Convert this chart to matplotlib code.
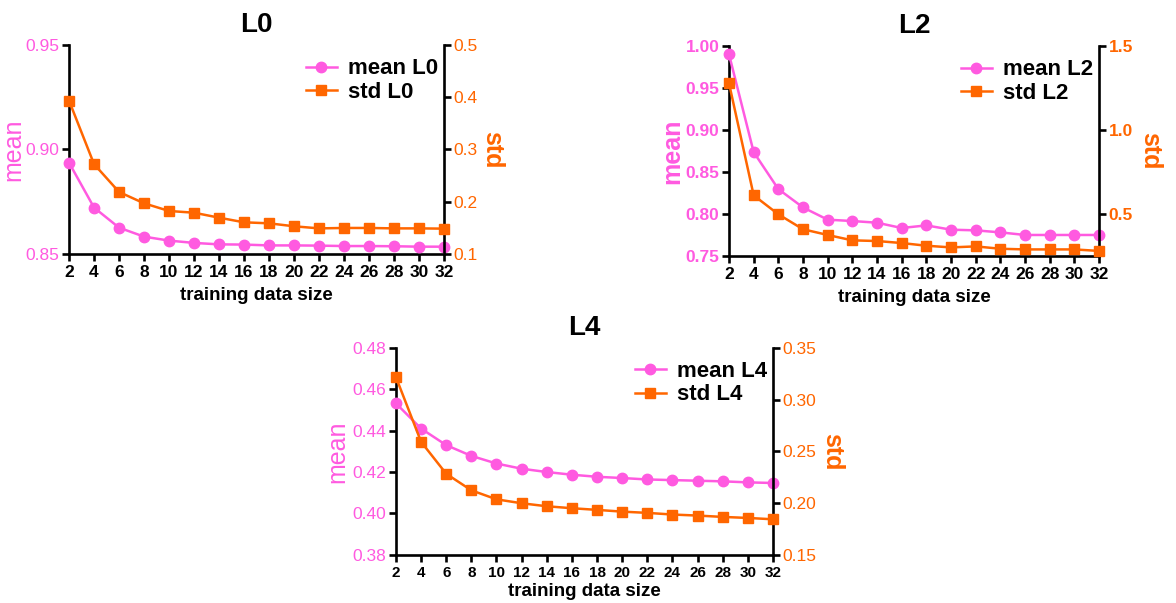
import matplotlib
matplotlib.use("Agg")
import matplotlib.pyplot as plt

plt.rcParams['font.family'] = ['Liberation Sans', 'DejaVu Sans']

# datos
sizes = [2, 4, 6, 8, 10, 12, 14, 16, 18, 20, 22, 24, 26, 28, 30, 32]

mean_L0 = [0.8937, 0.8722, 0.8626, 0.8583, 0.8564, 0.8553, 0.8546, 0.8545,
           0.8541, 0.8541, 0.8540, 0.8538, 0.8538, 0.8537, 0.8535, 0.8535]
std_L0 = [0.3935, 0.2720, 0.2187, 0.1970, 0.1823, 0.1790, 0.1695, 0.1606,
          0.1587, 0.1530, 0.1490, 0.1498, 0.1498, 0.1490, 0.1490, 0.1485]

mean_L2 = [0.9901, 0.8736, 0.8296, 0.8078, 0.7932, 0.7916, 0.7896, 0.7833,
           0.7864, 0.7813, 0.7805, 0.7781, 0.7750, 0.7750, 0.7750, 0.7750]
std_L2 = [1.278, 0.611, 0.498, 0.409, 0.375, 0.343, 0.339, 0.327,
          0.311, 0.301, 0.307, 0.293, 0.289, 0.289, 0.289, 0.280]

mean_L4 = [0.4532, 0.4410, 0.4330, 0.4278, 0.4241, 0.4216, 0.4200, 0.4187,
           0.4177, 0.4171, 0.4164, 0.4161, 0.4158, 0.4155, 0.4150, 0.4147]
std_L4 = [0.3217, 0.2592, 0.2283, 0.2123, 0.2036, 0.1998, 0.1969, 0.1950,
          0.1934, 0.1917, 0.1905, 0.1889, 0.1879, 0.1866, 0.1856, 0.1843]

PINK = '#FF5AE0'
ORANGE = '#FF6600'

fig = plt.figure(figsize=(11.76, 6.03), dpi=100)


def panel(rect, name, mean, std, mlim, mticks, mfmt, slim, sticks, sfmt, mx, sx,
          xsize=12.5, xpad=5, ywt='bold'):
    ax = fig.add_axes(rect)
    ax2 = ax.twinx()
    l1, = ax.plot(sizes, mean, '-o', color=PINK, lw=1.8, ms=7.5, label='mean ' + name,
                  clip_on=False, zorder=3)
    l2, = ax2.plot(sizes, std, '-s', color=ORANGE, lw=1.8, ms=7.5, label='std ' + name,
                   clip_on=False, zorder=3)
    ax.set_xlim(2, 32)
    ax.set_xticks(sizes)
    ax.set_ylim(*mlim)
    ax.set_yticks(mticks)
    ax.set_yticklabels([mfmt % v for v in mticks])
    ax2.set_ylim(*slim)
    ax2.set_yticks(sticks)
    ax2.set_yticklabels([sfmt % v for v in sticks])

    for a in (ax, ax2):
        a.spines['top'].set_visible(False)
        for s in ('left', 'right', 'bottom'):
            a.spines[s].set_linewidth(1.9)
        a.tick_params(width=1.9, length=5, direction='out')
    ax.spines['right'].set_visible(False)
    ax2.spines['left'].set_visible(False)
    ax2.spines['bottom'].set_visible(False)

    ax.tick_params(axis='x', labelsize=xsize, pad=3)
    ax.tick_params(axis='y', labelsize=12.5, labelcolor=PINK, pad=2)
    ax2.tick_params(axis='y', labelsize=12.5, labelcolor=ORANGE, pad=2)
    for t in ax.get_xticklabels():
        t.set_fontweight('bold')
    for t in ax.get_yticklabels() + ax2.get_yticklabels():
        t.set_fontweight(ywt)

    ax.set_xlabel('training data size', fontsize=13.5, fontweight='bold', labelpad=xpad)
    ax.text(mx, 0.5, 'mean', rotation=90, ha='center', va='center', fontsize=18,
            fontweight=ywt, color=PINK, transform=ax.transAxes)
    ax.text(sx, 0.5, 'std', rotation=270, ha='center', va='center', fontsize=18,
            fontweight='bold', color=ORANGE, transform=ax.transAxes)
    ax.set_title(name, fontsize=20, fontweight='bold', pad=9)

    leg = ax2.legend(handles=[l1, l2], loc='upper right', bbox_to_anchor=(1.02, 1.0),
                     frameon=False, fontsize=16, handlelength=1.4, handletextpad=0.5,
                     labelspacing=0.1, borderaxespad=0.2)
    for t in leg.get_texts():
        t.set_fontweight('bold')
    return ax, ax2


panel([0.0587, 0.5788, 0.3189, 0.3466], 'L0', mean_L0, std_L0,
      (0.85, 0.95), [0.85, 0.90, 0.95], '%.2f',
      (0.1, 0.5), [0.1, 0.2, 0.3, 0.4, 0.5], '%.1f', -0.148, 1.127, ywt='normal')
panel([0.6199, 0.5755, 0.3146, 0.3483], 'L2', mean_L2, std_L2,
      (0.75, 1.00), [0.75, 0.80, 0.85, 0.90, 0.95, 1.00], '%.2f',
      (0.25, 1.5), [0.5, 1.0, 1.5], '%.1f', -0.154, 1.138)
panel([0.3367, 0.0800, 0.3206, 0.3430], 'L4', mean_L4, std_L4,
      (0.38, 0.48), [0.38, 0.40, 0.42, 0.44, 0.46, 0.48], '%.2f',
      (0.15, 0.35), [0.15, 0.20, 0.25, 0.30, 0.35], '%.2f', -0.155, 1.156,
      xsize=11, xpad=2, ywt='normal')

fig.savefig('out.png', dpi=100)
